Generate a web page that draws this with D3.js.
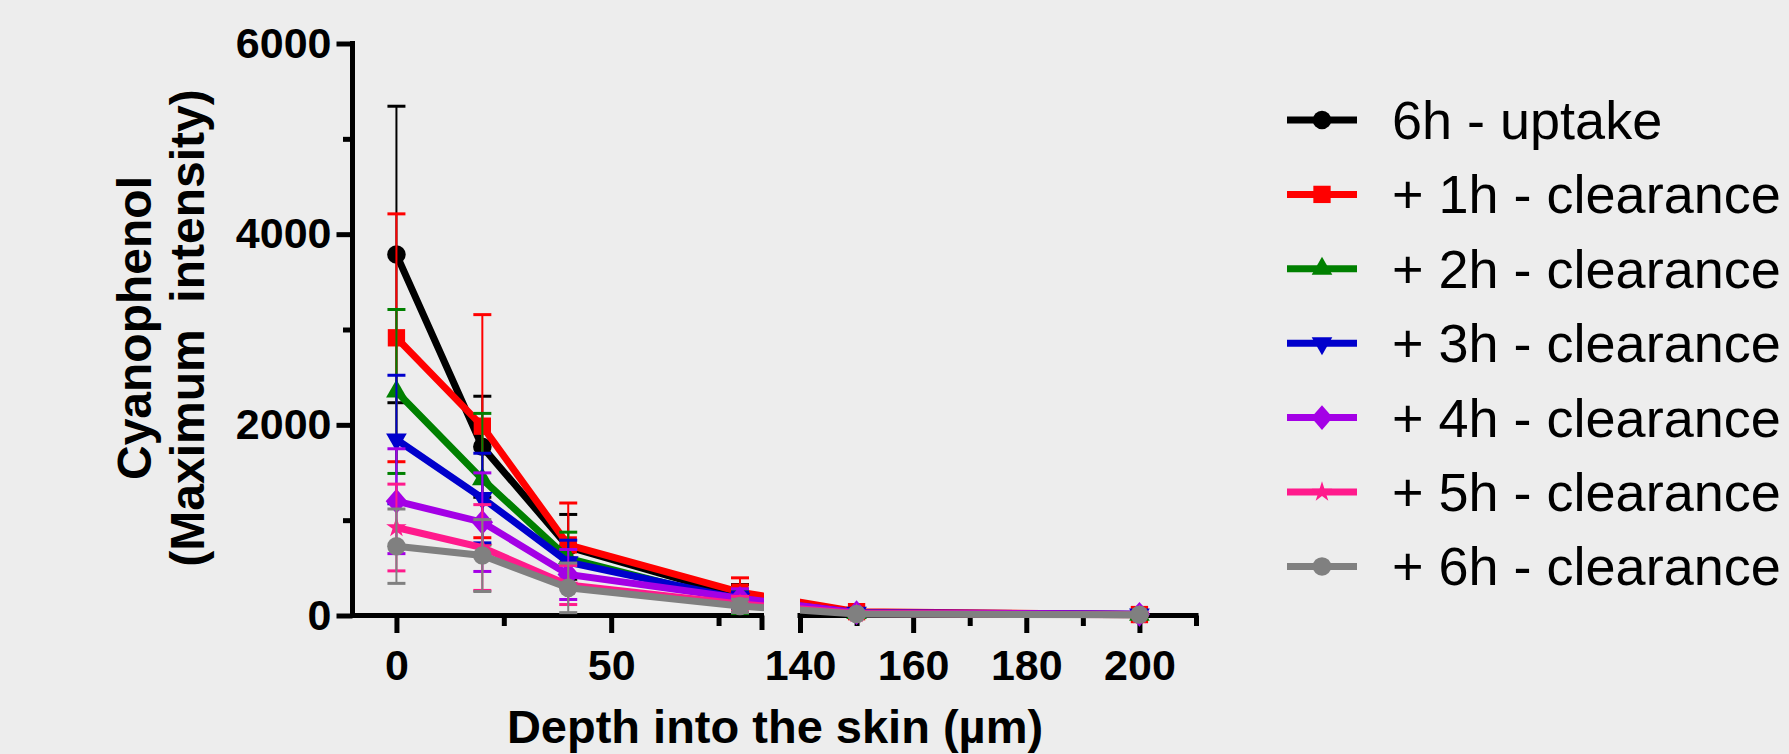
<!DOCTYPE html>
<html>
<head>
<meta charset="utf-8">
<script src="https://cdn.jsdelivr.net/npm/d3@7/dist/d3.min.js"></script>
<style>
  html, body { margin: 0; padding: 0; background: #ededed; }
  svg { display: block; }
  text { font-family: "Liberation Sans", Arial, Helvetica, sans-serif; fill: #000; }
</style>
</head>
<body>
<svg id="chart" width="1789" height="754"></svg>
<script>
// Depth positions (µm) where intensity was sampled
const depths = [0, 20, 40, 80, 150, 200];

// Series labels, in drawing order
const seriesLabels = ["6h - uptake", "+ 1h - clearance", "+ 2h - clearance", "+ 3h - clearance",
                      "+ 4h - clearance", "+ 5h - clearance", "+ 6h - clearance"];

// Mean maximum intensity per series
const uptake6h   = [3787, 1770, 720, 200, 25, 10];
const clear1h    = [2913, 1986, 740, 245, 40, 10];
const clear2h    = [2350, 1430, 600, 140, 25, 8];
const clear3h    = [1846, 1232, 560, 175, 30, 12];
const clear4h    = [1199, 979, 430, 180, 30, 12];
const clear5h    = [923, 713, 320, 120, 20, 8];
const clear6h    = [727, 629, 290, 100, 15, 8];

// Standard deviations (error bars)
const uptake6hSD = [1555, 530, 340, 125, 10, 5];
const clear1hSD  = [1300, 1170, 440, 150, 10, 5];
const clear2hSD  = [860, 690, 274, 120, 10, 5];
const clear3hSD  = [674, 470, 230, 70, 10, 5];
const clear4hSD  = [550, 517, 262, 100, 10, 5];
const clear5hSD  = [455, 450, 205, 80, 8, 4];
const clear6hSD  = [390, 377, 260, 70, 8, 4];

// Axis ticks
const yMajorTicks = [0, 2000, 4000, 6000];
const yMinorTicks = [1000, 3000, 5000];
const xLeftMajor  = [0, 50];
const xLeftMinor  = [25, 75];
const xRightMajor = [140, 160, 180, 200];
const xRightMinor = [150, 170, 190, 210];

const colors = ["#000000", "#ff0000", "#008000", "#0000cc", "#a400e6", "#ff1a8c", "#808080"];

// custom diamond (slightly taller than wide)
const diamondSym = {
  draw(ctx, size) {
    const w = Math.sqrt(size) * 0.74, h = Math.sqrt(size) * 0.86;
    ctx.moveTo(0, -h); ctx.lineTo(w, 0); ctx.lineTo(0, h); ctx.lineTo(-w, 0); ctx.closePath();
  }
};
const markers = [
  { type: d3.symbolCircle,   size: 270, rot: 0 },
  { type: d3.symbolSquare,   size: 300, rot: 0 },
  { type: d3.symbolTriangle, size: 185, rot: 0 },
  { type: d3.symbolTriangle, size: 185, rot: 180 },
  { type: diamondSym,        size: 210, rot: 0 },
  { type: d3.symbolStar,     size: 130, rot: 0 },
  { type: d3.symbolCircle,   size: 270, rot: 0 }
];

const means = [uptake6h, clear1h, clear2h, clear3h, clear4h, clear5h, clear6h];
const sds   = [uptake6hSD, clear1hSD, clear2hSD, clear3hSD, clear4hSD, clear5hSD, clear6hSD];

const svg = d3.select("#chart");
svg.append("rect").attr("width", 1789).attr("height", 754).attr("fill", "#ededed");

// Scales: y linear, x broken into two segments
const y = d3.scaleLinear().domain([0, 6000]).range([615.5, 43.5]);
const xLeft  = d3.scaleLinear().domain([-10.23, 85]).range([352.5, 761.5]);
const xRight = d3.scaleLinear().domain([140, 210]).range([800, 1196]);
const xPos = d => (d <= 85 ? xLeft(d) : xRight(d));

// Clip regions for the two x segments
const defs = svg.append("defs");
const clip = defs.append("clipPath").attr("id", "segClip");
clip.append("rect").attr("x", 0).attr("y", 0).attr("width", xLeft.range()[1] + 2.5).attr("height", 754);
clip.append("rect").attr("x", xRight.range()[0]).attr("y", 0).attr("width", 1789 - xRight.range()[0]).attr("height", 754);

// ---- Axes ----
const axisStroke = 5;
function styleAxis(g) {
  g.select(".domain").remove();
  g.selectAll(".tick line").attr("stroke", "#000").attr("stroke-width", axisStroke);
  g.selectAll(".tick text").style("font-size", "43px").style("font-weight", "bold");
}

// y axis
svg.append("line")
  .attr("x1", 352.5).attr("x2", 352.5).attr("y1", y(6000)).attr("y2", y(0))
  .attr("stroke", "#000").attr("stroke-width", axisStroke).attr("stroke-linecap", "square");
svg.append("g").attr("transform", "translate(352.5,0)")
  .call(d3.axisLeft(y).tickValues(yMajorTicks).tickSize(16).tickPadding(5).tickFormat(d3.format("d")))
  .call(styleAxis);
svg.append("g").attr("transform", "translate(352.5,0)")
  .call(d3.axisLeft(y).tickValues(yMinorTicks).tickSize(9.5).tickFormat(""))
  .call(styleAxis);

// x axis, left segment
svg.append("line")
  .attr("x1", xLeft.range()[0]).attr("x2", xLeft(85)).attr("y1", y(0)).attr("y2", y(0))
  .attr("stroke", "#000").attr("stroke-width", axisStroke).attr("stroke-linecap", "square");
svg.append("g").attr("transform", `translate(0,${y(0)})`)
  .call(d3.axisBottom(xLeft).tickValues(xLeftMajor).tickSize(17.5).tickPadding(16).tickFormat(d3.format("d")))
  .call(styleAxis);
svg.append("g").attr("transform", `translate(0,${y(0)})`)
  .call(d3.axisBottom(xLeft).tickValues(xLeftMinor).tickSize(10.5).tickFormat(""))
  .call(styleAxis);
svg.append("g").attr("transform", `translate(0,${y(0)})`)
  .call(d3.axisBottom(xLeft).tickValues([85]).tickSize(14.5).tickFormat(""))
  .call(styleAxis);

// x axis, right segment
svg.append("line")
  .attr("x1", xRight(140)).attr("x2", xRight(210)).attr("y1", y(0)).attr("y2", y(0))
  .attr("stroke", "#000").attr("stroke-width", axisStroke).attr("stroke-linecap", "square");
svg.append("g").attr("transform", `translate(0,${y(0)})`)
  .call(d3.axisBottom(xRight).tickValues(xRightMajor).tickSize(17.5).tickPadding(16).tickFormat(d3.format("d")))
  .call(styleAxis);
svg.append("g").attr("transform", `translate(0,${y(0)})`)
  .call(d3.axisBottom(xRight).tickValues(xRightMinor).tickSize(10.5).tickFormat(""))
  .call(styleAxis);

// Axis titles
svg.append("text")
  .attr("x", 775).attr("y", 743)
  .attr("text-anchor", "middle")
  .style("font-size", "47px").style("font-weight", "bold")
  .text("Depth into the skin (µm)");

svg.append("text")
  .attr("transform", "translate(151,328) rotate(-90)")
  .attr("text-anchor", "middle")
  .style("font-size", "48px").style("font-weight", "bold")
  .text("Cyanophenol");
svg.append("text")
  .attr("transform", "translate(204,328) rotate(-90)")
  .attr("text-anchor", "middle")
  .style("font-size", "48px").style("font-weight", "bold")
  .style("white-space", "pre")
  .text("(Maximum  intensity)");

// ---- Series ----
const line = d3.line().x(d => xPos(d.x)).y(d => y(d.v));
const symbolPath = (m) => d3.symbol().type(m.type).size(m.size)();
const capHalf = 9;

means.forEach((vals, i) => {
  const pts = depths.map((x, j) => ({ x, v: vals[j], sd: sds[i][j] }));
  const g = svg.append("g").attr("class", "series");
  g.append("path")
    .attr("d", line(pts))
    .attr("clip-path", "url(#segClip)")
    .attr("fill", "none")
    .attr("stroke", colors[i])
    .attr("stroke-width", 7)
    .attr("stroke-linejoin", "miter");

  const eb = g.append("g").attr("stroke", colors[i]);
  pts.forEach(p => {
    const cx = xPos(p.x);
    const y1 = y(p.v + p.sd), y0 = y(Math.max(0, p.v - p.sd));
    eb.append("line").attr("x1", cx).attr("x2", cx).attr("y1", y1).attr("y2", y0).attr("stroke-width", 2);
    eb.append("line").attr("x1", cx - capHalf).attr("x2", cx + capHalf).attr("y1", y1).attr("y2", y1).attr("stroke-width", 3);
    eb.append("line").attr("x1", cx - capHalf).attr("x2", cx + capHalf).attr("y1", y0).attr("y2", y0).attr("stroke-width", 3);
  });

  g.selectAll("path.marker").data(pts).join("path")
    .attr("class", "marker")
    .attr("d", symbolPath(markers[i]))
    .attr("transform", d => `translate(${xPos(d.x)},${y(d.v)}) rotate(${markers[i].rot})`)
    .attr("fill", colors[i]);
});

// ---- Legend ----
const legendRow0 = 120, legendStep = 74.4;
const legend = svg.append("g");
seriesLabels.forEach((label, i) => {
  const cy = legendRow0 + i * legendStep;
  legend.append("line")
    .attr("x1", 1287).attr("x2", 1357).attr("y1", cy).attr("y2", cy)
    .attr("stroke", colors[i]).attr("stroke-width", 7);
  legend.append("path")
    .attr("d", symbolPath(markers[i]))
    .attr("transform", `translate(1322,${cy}) rotate(${markers[i].rot})`)
    .attr("fill", colors[i]);
  legend.append("text")
    .attr("x", 1392).attr("y", cy + 19)
    .style("font-size", "54px")
    .style("white-space", "pre")
    .text(label);
});
</script>
</body>
</html>
